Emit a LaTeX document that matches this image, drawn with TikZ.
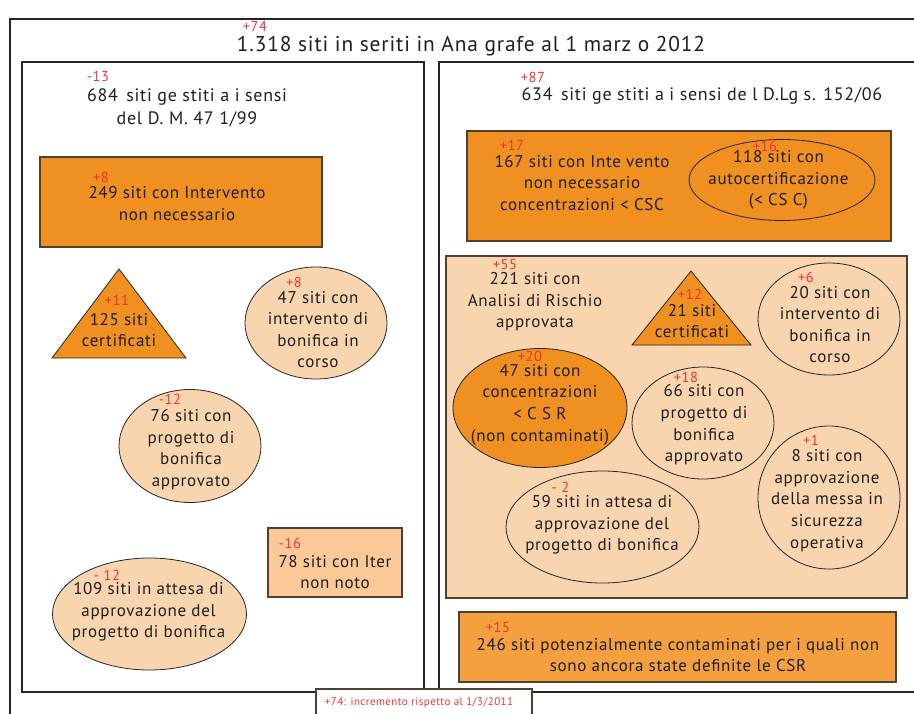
\documentclass[tikz,border=0pt]{standalone}
\usepackage{fontspec}
\setmainfont{PT Sans}[LetterSpace=4]
\usetikzlibrary{shapes.geometric}
\definecolor{darkor}{RGB}{239,144,32}
\definecolor{peach}{RGB}{248,213,174}
\definecolor{midpeach}{RGB}{251,200,152}
\definecolor{softor}{RGB}{244,160,62}
\definecolor{dred}{RGB}{237,52,52}
\definecolor{boxln}{RGB}{80,64,50}

\begin{document}
\begin{tikzpicture}[x=1pt,y=-1pt,
  txt/.style={align=center,inner sep=0,text=black!88,font=\fontsize{17}{21.6}\selectfont},
  dlt/.style={inner sep=0,text=dred,font=\fontsize{14.5}{15}\selectfont},
  obox/.style={draw=boxln,line width=1.3pt},
  pell/.style={ellipse,draw=black!85,line width=0.8pt,fill=peach,inner sep=0},
  tri/.style={draw=black!85,line width=0.8pt,fill=darkor,line join=miter}]

  \useasboundingbox (0,0) rectangle (914,713);

  % frames
  \draw[black!85,line width=1.8pt] (10,720) |- (920,19);
  \draw[black!85,line width=1.1pt] (22,62) rectangle (424,692);
  \draw[black!85,line width=1.1pt] (920,62) -| (439,692) -- (920,692);

  \node[txt,font=\fontsize{21.4}{24}\selectfont] (title) at (471,46) {1.318 siti in seriti in Ana grafe al 1 marz o 2012};
  \node[dlt] (d74) at (255,26) {+74};

  \node[txt,font=\fontsize{18}{23}\selectfont] (dmhead) at (187,108) {684 \,siti ge stiti a i sensi\\del D. M. 47 1/99};
  \node[dlt] (d13) at (98,76) {-13};
  \node[txt,font=\fontsize{18}{23}\selectfont] (dlghead) at (702,96) {634 \,siti ge stiti a i sensi de l D.Lg s. 152/06};
  \node[dlt] (d87) at (533,77) {+87};

  % left side
  \draw[obox,fill=darkor] (40,157) rectangle (322,247);
  \node[txt] (nn249) at (177,203.5) {249 siti con Intervento\\non necessario};
  \node[dlt] (d249) at (101,177) {+8};

  \draw[tri] (119,269) coordinate (t125) -- (186,358) -- (52,358) -- cycle;
  \node[txt] (ce125) at (119,330) {125 siti\\certificati};
  \node[dlt] (d125) at (117,300) {+11};

  \node[pell,minimum width=142,minimum height=112] (e47) at (316,323) {};
  \node[txt] (bc47) at (318,329.5) {47 siti con\\intervento di\\bonifica in\\corso};
  \node[dlt] (d47) at (294,282) {+8};

  \node[pell,minimum width=142,minimum height=113] (e76) at (190,446) {};
  \node[txt] (pa76) at (191,449.5) {76 siti con\\progetto di\\bonifica\\approvato};
  \node[dlt] (d76) at (170,399.5) {-12};

  \draw[obox,fill=midpeach] (268,528) rectangle (402,597);
  \node[txt] (it78) at (335,572) {78 siti con Iter\\non noto};
  \node[dlt] (d78) at (290,543) {-16};

  \node[pell,minimum width=194,minimum height=112] (e109) at (149.5,614) {};
  \node[txt] (at109) at (148.5,612) {109 siti in attesa di\\approvazione del\\progetto di bonifica};
  \node[dlt] (d109) at (107,575) {- 12};

  % right side
  \draw[obox,fill=darkor] (467,131) rectangle (891,241);
  \node[txt] (nn167) at (582,183) {167 siti con Inte vento\\non necessario\\concentrazioni < CSC};
  \node[dlt] (d167) at (512,145) {+17};
  \node[pell,fill=darkor,minimum width=186,minimum height=81] (e118) at (782,180) {};
  \node[txt] (ac118) at (778.5,180) {118 siti con\\autocertificazione\\(< CS C)};
  \node[dlt] (d118) at (765,146) {+16};

  \draw[obox,fill=peach] (446,256) rectangle (907,598);
  \node[txt] (ar221) at (535,302) {221 siti con\\Analisi di Rischio\\approvata};
  \node[dlt] (d221) at (505,265) {+55};

  \draw[tri] (691,271) coordinate (t21) -- (751,345) -- (632,345) -- cycle;
  \node[txt] (ce21) at (692,321) {21 siti\\certificati};
  \node[dlt] (d21) at (690,294) {+12};

  \node[pell,minimum width=142,minimum height=112] (e20) at (829,319) {};
  \node[txt] (bc20) at (830,324.5) {20 siti con\\intervento di\\bonifica in\\corso};
  \node[dlt] (d20) at (806,277) {+6};

  \node[pell,fill=darkor,minimum width=174,minimum height=119] (e47r) at (540,408) {};
  \node[txt] (cs47) at (540,404.5) {47 siti con\\concentrazioni\\< C S R\\(non contaminati)};
  \node[dlt] (d47r) at (530,356) {+20};

  \node[pell,minimum width=142,minimum height=112] (e66) at (703,423) {};
  \node[txt] (pa66) at (704,425) {66 siti con\\progetto di\\bonifica\\approvato};
  \node[dlt] (d66) at (686,377) {+18};

  \node[pell,minimum width=142,minimum height=143] (e8) at (829,497.5) {};
  \node[txt] (ms8) at (827,500.5) {8 siti con\\approvazione\\della messa in\\sicurezza\\operativa};
  \node[dlt] (d8) at (811,440) {+1};

  \node[pell,minimum width=193,minimum height=112] (e59) at (602.5,527) {};
  \node[txt] (at59) at (602,525) {59 siti in attesa di\\approvazione del\\progetto di bonifica};
  \node[dlt] (d59) at (560.5,487) {- 2};

  \draw[obox,fill=softor] (459,612) rectangle (896,682);
  \node[txt] (pc246) at (678,655) {246 siti potenzialmente contaminati per i quali non\\sono ancora state definite le CSR};
  \node[dlt] (d246) at (498,627) {+15};

  % note
  \draw[draw=boxln,line width=1.3pt,fill=white] (316,720) |- (532,689) -- (532,720);
  \node[dlt,font=\fontsize{11}{12}\selectfont] (note) at (419,703) {+74: incremento rispetto al 1/3/2011};
\end{tikzpicture}
\end{document}
